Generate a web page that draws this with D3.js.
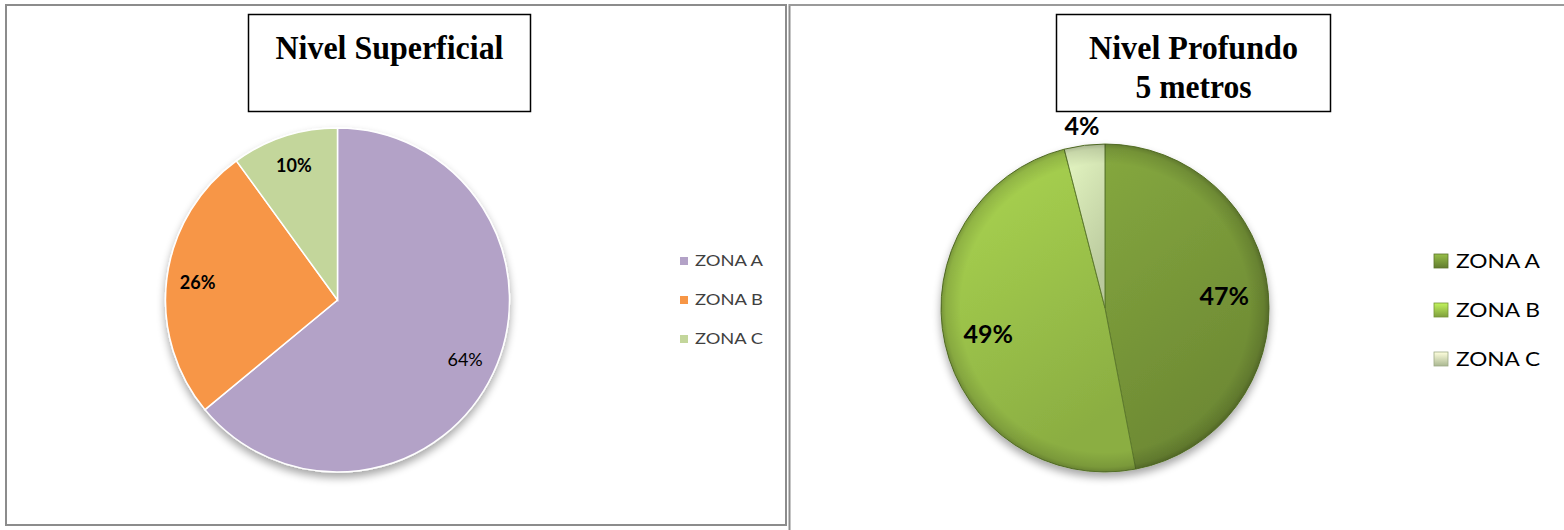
<!DOCTYPE html>
<html>
<head>
<meta charset="utf-8">
<script src="https://cdn.jsdelivr.net/npm/d3@7"></script>
<style>
    html, body { margin: 0; padding: 0; background: #fff; }
    svg { display: block; }
</style>
</head>
<body>
<div id="chart"></div>
<script>
// data
const zones = ['ZONA A', 'ZONA B', 'ZONA C'];
const superficialValues = [64, 26, 10];
const profundoValues = [47, 49, 4];
const superficialTitle = ['Nivel Superficial'];
const profundoTitle = ['Nivel Profundo', '5 metros'];

const width = 1564;
const height = 530;

const svg = d3.select('#chart').append('svg')
    .attr('width', width)
    .attr('height', height);

const defs = svg.append('defs');

// soft shadow under the pies
const shadow = defs.append('filter')
    .attr('id', 'shadow')
    .attr('x', '-20%').attr('y', '-20%')
    .attr('width', '140%').attr('height', '150%');
shadow.append('feGaussianBlur').attr('in', 'SourceAlpha').attr('stdDeviation', 4);
shadow.append('feOffset').attr('dx', 0).attr('dy', 5).attr('result', 'off');
shadow.append('feComponentTransfer').append('feFuncA').attr('type', 'linear').attr('slope', 0.35);
const merge = shadow.append('feMerge');
merge.append('feMergeNode');
merge.append('feMergeNode').attr('in', 'SourceGraphic');

// frames
svg.append('rect')
    .attr('x', 6).attr('y', 5)
    .attr('width', 780).attr('height', 520)
    .attr('fill', 'none')
    .attr('stroke', '#8c8c8c')
    .attr('stroke-width', 2);
svg.append('line')
    .attr('x1', 789.5).attr('x2', 789.5)
    .attr('y1', 4).attr('y2', height)
    .attr('stroke', '#8c8c8c').attr('stroke-width', 2);
svg.append('line')
    .attr('x1', 789).attr('x2', width)
    .attr('y1', 5).attr('y2', 5)
    .attr('stroke', '#9a9a9a').attr('stroke-width', 2);

// title boxes
function titleBox(x, y, w, h, lines, widths) {
    const g = svg.append('g');
    g.append('rect')
        .attr('x', x).attr('y', y)
        .attr('width', w).attr('height', h)
        .attr('fill', '#fff')
        .attr('stroke', '#000')
        .attr('stroke-width', 1.5);
    lines.forEach((t, i) => {
        g.append('text')
            .attr('x', x + w / 2)
            .attr('y', y + 44 + i * 39)
            .attr('text-anchor', 'middle')
            .attr('textLength', widths[i])
            .attr('lengthAdjust', 'spacingAndGlyphs')
            .style('font-family', '"Liberation Serif", "Times New Roman", serif')
            .style('font-weight', 'bold')
            .style('font-size', '34px')
            .text(t);
    });
}
titleBox(248.5, 14.5, 282, 97, superficialTitle, [228]);
titleBox(1056.5, 14.5, 274, 97, profundoTitle, [209, 116]);

const pie = d3.pie().sort(null).value(d => d.value);

// ---------- left pie ----------
const leftColors = d3.scaleOrdinal().domain(zones).range(['#b3a2c7', '#f79646', '#c3d69b']);
const leftData = zones.map((z, i) => ({ zone: z, value: superficialValues[i] }));
const leftR = 172;
const leftG = svg.append('g').attr('transform', 'translate(337.5,300)');
const leftArc = d3.arc().innerRadius(0).outerRadius(leftR);
const leftLabelArc = d3.arc().innerRadius(leftR * 0.82).outerRadius(leftR * 0.82);

const leftSlices = leftG.append('g').attr('filter', 'url(#shadow)');
leftSlices.selectAll('path')
    .data(pie(leftData))
    .join('path')
    .attr('d', leftArc)
    .attr('fill', d => leftColors(d.data.zone))
    .attr('stroke', '#fff')
    .attr('stroke-width', 1.5);

leftG.selectAll('text.lbl')
    .data(pie(leftData))
    .join('text')
    .attr('class', 'lbl')
    .attr('transform', d => 'translate(' + leftLabelArc.centroid(d) + ')')
    .attr('text-anchor', 'middle')
    .attr('dy', '0.35em')
    .style('font-family', 'Lato, "Open Sans", sans-serif')
    .style('font-weight', d => d.data.value > 50 ? 'normal' : 'bold')
    .style('font-size', '18px')
    .style('fill', '#000')
    .text(d => d.data.value + '%');

// left legend
const leftLegend = svg.append('g').attr('transform', 'translate(680,261)');
zones.forEach((z, i) => {
    const row = leftLegend.append('g').attr('transform', 'translate(0,' + i * 39 + ')');
    row.append('rect')
        .attr('x', 0).attr('y', -4)
        .attr('width', 8).attr('height', 8)
        .attr('fill', leftColors(z));
    row.append('text')
        .attr('x', 15).attr('dy', '0.35em')
        .attr('textLength', 68)
        .attr('lengthAdjust', 'spacingAndGlyphs')
        .style('font-family', 'Lato, "Open Sans", sans-serif')
        .style('font-size', '15px')
        .style('fill', '#404040')
        .text(z);
});

// ---------- right pie ----------
const rightBase = ['#7a9a3a', '#9dc54b', '#d3e4b3'];
const rightColors = d3.scaleOrdinal().domain(zones).range(rightBase);
const rightData = zones.map((z, i) => ({ zone: z, value: profundoValues[i] }));
const rightR = 164;
const cx = 1105, cy = 308;

zones.forEach((z, i) => {
    const c = d3.color(rightBase[i]);
    const grad = defs.append('linearGradient')
        .attr('id', 'grad' + i)
        .attr('x1', 0).attr('y1', 0).attr('x2', 0.4).attr('y2', 1);
    grad.append('stop').attr('offset', '0%').attr('stop-color', c.brighter(0.25));
    grad.append('stop').attr('offset', '100%').attr('stop-color', c.darker(0.35));

    const lg = defs.append('linearGradient')
        .attr('id', 'legGrad' + i)
        .attr('x1', 0).attr('y1', 0).attr('x2', 0).attr('y2', 1);
    lg.append('stop').attr('offset', '0%').attr('stop-color', c.brighter(0.6));
    lg.append('stop').attr('offset', '100%').attr('stop-color', c.darker(0.6));
});

// bevel overlay: darker rim
const rim = defs.append('radialGradient').attr('id', 'rim')
    .attr('cx', '50%').attr('cy', '50%').attr('r', '50%');
rim.append('stop').attr('offset', '88%').attr('stop-color', '#000').attr('stop-opacity', 0);
rim.append('stop').attr('offset', '97%').attr('stop-color', '#000').attr('stop-opacity', 0.12);
rim.append('stop').attr('offset', '100%').attr('stop-color', '#000').attr('stop-opacity', 0.25);

const rightG = svg.append('g').attr('transform', 'translate(' + cx + ',' + cy + ')');
const rightArc = d3.arc().innerRadius(0).outerRadius(rightR);

const rightSlices = rightG.append('g').attr('filter', 'url(#shadow)');
rightSlices.selectAll('path')
    .data(pie(rightData))
    .join('path')
    .attr('d', rightArc)
    .attr('fill', (d, i) => 'url(#grad' + i + ')')
    .attr('stroke', '#5d7a2c')
    .attr('stroke-width', 1);

rightG.append('circle')
    .attr('r', rightR)
    .attr('fill', 'url(#rim)')
    .style('pointer-events', 'none');

rightG.selectAll('text.lbl')
    .data(pie(rightData))
    .join('text')
    .attr('class', 'lbl')
    .attr('transform', d => {
        const k = d.data.value < 10 ? 1.12 : 0.73;
        const a = d3.arc().innerRadius(rightR * k).outerRadius(rightR * k);
        return 'translate(' + a.centroid(d) + ')';
    })
    .attr('text-anchor', 'middle')
    .attr('dy', '0.35em')
    .style('font-family', 'Lato, "Open Sans", sans-serif')
    .style('font-weight', 'bold')
    .style('font-size', '25px')
    .style('fill', '#000')
    .text(d => d.data.value + '%');

// right legend
const rightLegend = svg.append('g').attr('transform', 'translate(1434,261)');
zones.forEach((z, i) => {
    const row = rightLegend.append('g').attr('transform', 'translate(0,' + i * 49 + ')');
    row.append('rect')
        .attr('x', 0).attr('y', -7)
        .attr('width', 14).attr('height', 14)
        .attr('fill', 'url(#legGrad' + i + ')')
        .attr('stroke', d3.color(rightBase[i]).darker(0.8))
        .attr('stroke-width', 0.8);
    row.append('text')
        .attr('x', 22).attr('dy', '0.36em')
        .attr('textLength', 84)
        .attr('lengthAdjust', 'spacingAndGlyphs')
        .style('font-family', 'Lato, "Open Sans", sans-serif')
        .style('font-size', '20px')
        .style('fill', '#000')
        .text(z);
});
</script>
</body>
</html>
